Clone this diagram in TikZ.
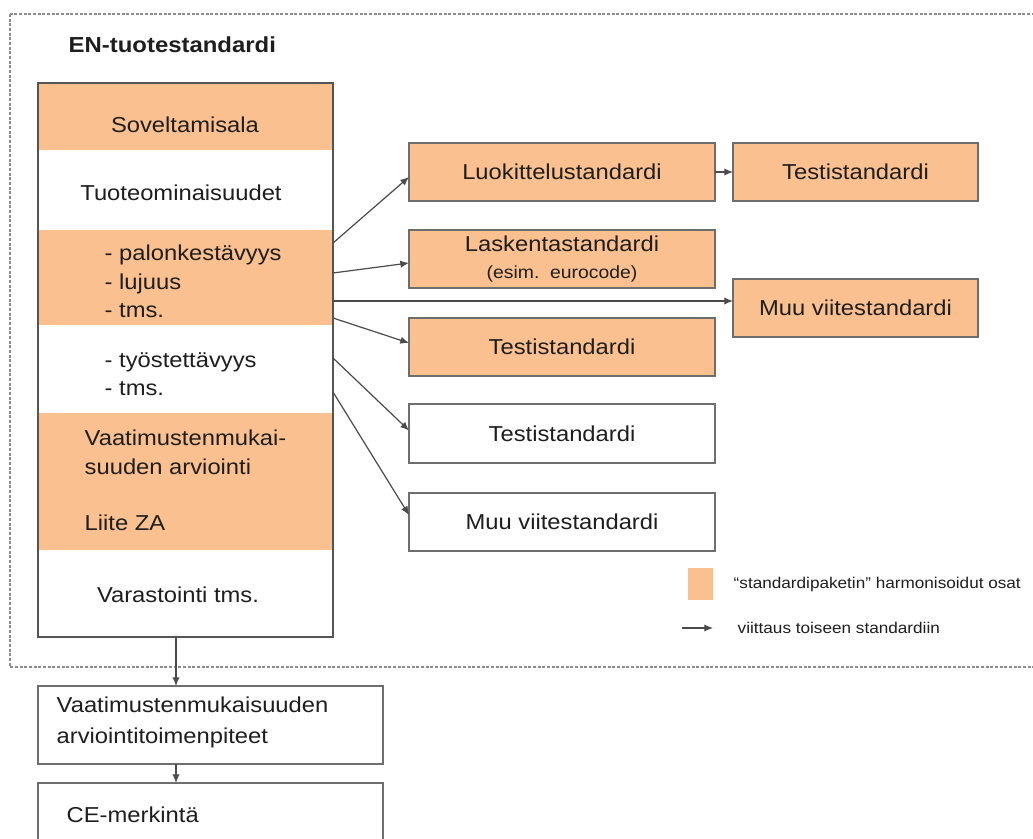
\documentclass[tikz,border=0pt]{standalone}
\usepackage{fontspec}
\setmainfont[FakeStretch=1.1]{Liberation Sans}
\usetikzlibrary{arrows.meta,calc,fit}

\definecolor{pkg}{HTML}{FAC090}
\definecolor{frame}{HTML}{6E6E6E}
\definecolor{mainframe}{HTML}{555555}
\definecolor{ink}{HTML}{1E1E1E}
\definecolor{dashgray}{HTML}{8C8C8C}

\newcommand{\txt}{\fontsize{16.2}{21.4}\selectfont}
\newcommand{\smalltxt}{\fontsize{13.2}{16}\selectfont}
\newcommand{\legtxt}{\fontsize{11.7}{14}\selectfont}

\begin{document}
\begin{tikzpicture}[x=0.75pt,y=-0.75pt,
  every node/.style={text=ink, font=\txt},
  refbox/.style={draw=frame, line width=1.3pt, inner sep=0pt, outer sep=0pt, align=center},
  pkgbox/.style={refbox, fill=pkg},
  plainbox/.style={refbox, fill=white},
  midbox/.style={minimum width=229.5pt, minimum height=44pt},
  rightbox/.style={minimum width=183.75pt, minimum height=43.5pt},
  lowbox/.style={draw=frame, line width=1.3pt, inner sep=0pt, outer sep=0pt, fill=white,
                 minimum width=258.75pt},
  arr/.style={draw=ink!80, line width=0.9pt, -{Latex[length=6.5pt,width=5.5pt]}},
  band/.style={fill=pkg}
]
\useasboundingbox (0,0) rectangle (1033,839);
\clip (0,0) rectangle (1033,839);
\fill[white] (0,0) rectangle (1033,839);

% dashed frame of the product standard
\draw[draw=dashgray, line width=0.9pt, dash pattern=on 2.2pt off 1.3pt] (10,14) rectangle (1050,667);
\node[font=\bfseries\fontsize{16.3}{20}\selectfont, anchor=west] (title) at (64,45) {EN-tuotestandardi};

% main column: shaded bands, then the frame on top
\fill[band] (38,83) rectangle (333,150);
\fill[band] (38,230) rectangle (333,325);
\fill[band] (38,413) rectangle (333,550);
\coordinate (mtl) at (38,83);
\coordinate (mbr) at (333,637);
\node[fit=(mtl)(mbr), inner sep=0pt, outer sep=0pt, draw=mainframe, line width=1.4pt] (main) {};

\node (scope) at (185,125) {Soveltamisala};
\node (props) at (181,193) {Tuoteominaisuudet};
\node[anchor=west, align=left] (harm) at (100,281.5) {- palonkestävyys\\- lujuus\\- tms.};
\node[anchor=west, align=left] (other) at (100,374) {- työstettävyys\\- tms.};
\node[anchor=west, align=left, font=\fontsize{16.2}{21.8}\selectfont] (conf) at (80,452.5) {Vaatimustenmukai-\\suuden arviointi};
\node[anchor=west] (annex) at (80,523) {Liite ZA};
\node (store) at (178,595) {Varastointi tms.};

% referenced standards
\node[pkgbox, midbox] (luok) at (562,172) {Luokittelustandardi};
\node[pkgbox, midbox, font=\fontsize{16.2}{21}\selectfont] (lask) at (562,259) {Laskentastandardi\\[-1pt]{\smalltxt (esim.\ \ eurocode)}};
\node[pkgbox, midbox] (testo) at (562,347) {Testistandardi};
\node[plainbox, midbox] (testw) at (562,433.5) {Testistandardi};
\node[plainbox, midbox] (muuw) at (562,522) {Muu viitestandardi};
\node[pkgbox, rightbox] (testr) at (855.5,172) {Testistandardi};
\node[pkgbox, rightbox] (muur) at (855.5,308) {Muu viitestandardi};

% start points on the right edge of the main column
\coordinate (s1) at (333,243);
\coordinate (s2) at (333,273);
\coordinate (s3) at (333,301);
\coordinate (s4) at (333,318);
\coordinate (s5) at (333,358);
\coordinate (s6) at (333,392);

\draw[arr] (s1) -- ($(luok.west)+(0,5)$);
\draw[arr] (s2) -- ($(lask.west)+(0,4)$);
\draw[arr] (s3) -- (muur.west |- s3);
\draw[arr] (s4) -- ($(testo.west)+(0,-4)$);
\draw[arr] (s5) -- ($(testw.west)+(0,-3)$);
\draw[arr] (s6) -- ($(muuw.west)+(0,-7)$);
\draw[arr] (luok.east) -- (testr.west);

% legend
\fill[pkg] (688,568) rectangle (713,600);
\node[anchor=west, font=\legtxt] (legpkg) at (729,584) {“standardipaketin” harmonisoidut osat};
\coordinate (legA) at (682,628);
\coordinate (legB) at (713,628);
\draw[arr] (legA) -- (legB);
\node[anchor=west, font=\legtxt] (legref) at (733,628) {viittaus toiseen standardiin};

% conformity steps below the standard
\node[lowbox, minimum height=58.5pt] (vaat) at (210.5,725) {};
\node[anchor=west, align=left, font=\fontsize{16.2}{23}\selectfont] (vaattxt) at (52,722.5) {Vaatimustenmukaisuuden\\arviointitoimenpiteet};
\node[lowbox, minimum height=57.75pt] (ce) at (210.5,821.5) {};
\node[anchor=west] (cetxt) at (62,815) {CE-merkintä};

\coordinate (down) at (176,0);
\draw[arr] (main.south -| down) -- (vaat.north -| down);
\draw[arr] (vaat.south -| down) -- (ce.north -| down);
\end{tikzpicture}
\end{document}
